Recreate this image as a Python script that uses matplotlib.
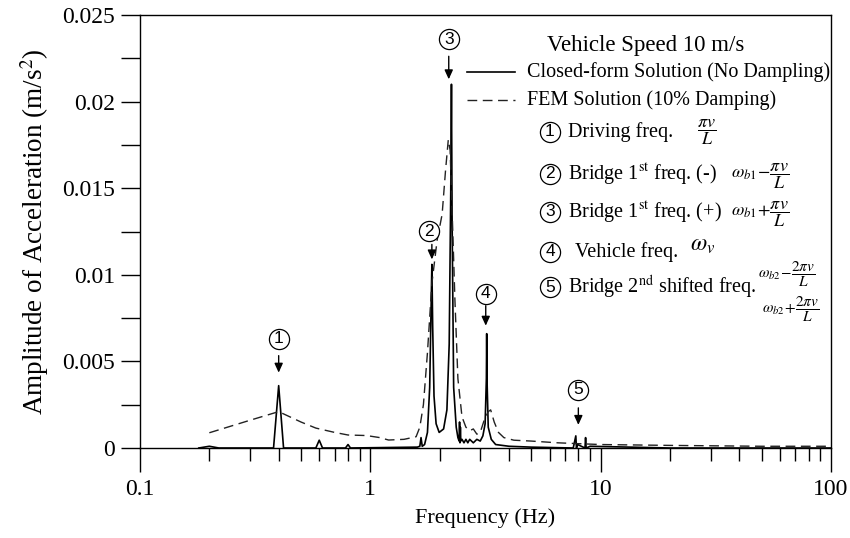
import matplotlib
matplotlib.use('Agg')
import matplotlib.pyplot as plt
import matplotlib.transforms as mtransforms

plt.rcParams['font.family'] = 'Liberation Serif'
plt.rcParams['mathtext.fontset'] = 'stix'

# Closed-form solution (no damping)
closed_freq = [0.18, 0.2, 0.22, 0.38, 0.40, 0.42, 0.58, 0.60, 0.62, 0.78, 0.80, 0.82,
               1.6, 1.64, 1.66, 1.68, 1.72, 1.77, 1.81, 1.835, 1.85, 1.865, 1.89, 1.93,
               1.99, 2.08, 2.15, 2.2, 2.235, 2.25, 2.265, 2.3, 2.36, 2.4, 2.43, 2.44,
               2.45, 2.46, 2.47, 2.5, 2.55, 2.6, 2.65, 2.7, 2.8, 2.9, 3.0, 3.08, 3.15,
               3.19, 3.2, 3.21, 3.25, 3.35, 3.5, 4.0, 5.0, 7.6, 7.8, 7.85, 7.95, 8.55,
               8.6, 8.65, 9.0, 20, 100]
closed_amp = [0.0, 0.0001, 0.0, 0.0, 0.0036, 0.0, 0.0, 0.00045, 0.0, 0.0, 0.0002, 0.0,
              0.00005, 0.0001, 0.0006, 0.0001, 0.0002, 0.0009, 0.0035, 0.008, 0.0106, 0.007, 0.003, 0.0014,
              0.0009, 0.0011, 0.0022, 0.006, 0.015, 0.021, 0.013, 0.0035, 0.0012, 0.0006, 0.0004, 0.0015,
              0.0003, 0.0012, 0.0004, 0.0005, 0.0003, 0.0005, 0.0003, 0.0005, 0.0003, 0.0005, 0.0004, 0.0007, 0.0014,
              0.004, 0.0066, 0.004, 0.0012, 0.0005, 0.0002, 0.0001, 0.00005, 0.0, 0.0007, 0.0, 0.0002, 0.0,
              0.0006, 0.0, 0.0001, 0.0, 0.0]

# FEM solution (10% damping)
fem_freq = [0.2, 0.3, 0.4, 0.5, 0.58, 0.7, 0.8, 0.96, 1.1, 1.2, 1.4, 1.58, 1.64, 1.7,
            1.77, 1.85, 1.95, 2.05, 2.12, 2.18, 2.22, 2.28, 2.33, 2.4, 2.5, 2.6, 2.7,
            2.8, 2.9, 3.0, 3.12, 3.25, 3.33, 3.45, 3.6, 3.8, 4.2, 5.0, 6.5, 8, 10, 20,
            50, 100]
fem_amp = [0.00088, 0.0016, 0.0021, 0.0015, 0.00115, 0.0009, 0.00075, 0.00072, 0.0006, 0.00046, 0.0005, 0.00065, 0.0012, 0.0025,
           0.0055, 0.0095, 0.012, 0.0135, 0.016, 0.0178, 0.0172, 0.0125, 0.0085, 0.004, 0.0018, 0.0012, 0.001,
           0.0011, 0.0008, 0.0009, 0.0016, 0.0021, 0.0022, 0.0015, 0.0009, 0.0006, 0.00045, 0.0004, 0.0003, 0.00025, 0.0002, 0.00015,
           0.0001, 0.0001]

# peaks marked with circled numbers
peak_labels = ['1', '2', '3', '4', '5']
peak_freq = [0.4, 1.85, 2.19, 3.17, 8.0]
peak_amp = [0.0036, 0.0106, 0.021, 0.0066, 0.0007]

x_ticks = [0.1, 1, 10, 100]
x_tick_labels = ['0.1', '1', '10', '100']
y_ticks = [0, 0.005, 0.01, 0.015, 0.02, 0.025]
y_tick_labels = ['0', '0.005', '0.01', '0.015', '0.02', '0.025']

fig = plt.figure(figsize=(8.5, 5.38), dpi=100)
ax = fig.add_axes([140 / 850, 1 - 448 / 538, 691 / 850, 433 / 538])

ax.plot(closed_freq, closed_amp, color='black', lw=1.2)
ax.plot(fem_freq, fem_amp, color='#222222', lw=1.0, dashes=(7, 4))

ax.set_xscale('log')
ax.set_xlim(0.1, 100)
ax.set_ylim(0, 0.025)
ax.set_xticks(x_ticks)
ax.set_xticklabels(x_tick_labels)
ax.set_yticks(y_ticks)
ax.set_yticklabels(y_tick_labels)
ax.set_yticks([0.0025, 0.0075, 0.0125, 0.0175, 0.0225], minor=True)
ax.tick_params(axis='x', which='major', direction='out', length=17, width=1, labelsize=17, pad=5)
ax.tick_params(axis='x', which='minor', direction='out', length=9, width=1)
ax.tick_params(axis='y', which='both', direction='out', length=14, width=1, labelsize=17, pad=4)
for s in ax.spines.values():
    s.set_linewidth(1.0)

ax.set_xlabel('Frequency (Hz)', fontsize=16, labelpad=6)
ax.set_ylabel('Amplitude of Acceleration (m/s$^2$)', fontsize=19.5, labelpad=8)

# circled numbers and arrows above the peaks (offsets in pixels)
tip_gap = [13, 5, 5, 8, 11]
arrow_len = [17, 15, 23, 20, 17]
circle_gap = [17, 13, 17, 12, 18]
circle_dx = [0, -3, 0, 0, 0]
for i in range(5):
    f, a = peak_freq[i], peak_amp[i]
    tip = mtransforms.offset_copy(ax.transData, fig=fig, x=0, y=tip_gap[i], units='dots')
    start = mtransforms.offset_copy(ax.transData, fig=fig, x=0, y=tip_gap[i] + arrow_len[i], units='dots')
    ax.annotate('', xy=(f, a), xycoords=tip, xytext=(f, a), textcoords=start,
                arrowprops=dict(arrowstyle='-|>,head_width=0.25,head_length=0.55',
                                color='black', lw=1.0, shrinkA=0, shrinkB=0))
    cy = tip_gap[i] + arrow_len[i] + circle_gap[i]
    ctr = mtransforms.offset_copy(ax.transData, fig=fig, x=circle_dx[i], y=cy, units='dots')
    ax.plot([f], [a], marker='o', ms=14.5, mfc='white', mec='black', mew=0.9,
            transform=ctr, clip_on=False)
    ax.text(f, a, peak_labels[i], transform=ctr, ha='center', va='center',
            fontsize=12.5, family='Liberation Sans')


def ax_xy(px, py):
    return (px - 140) / 691, (448 - py) / 433


# legend block
ax.text(*ax_xy(547, 45), 'Vehicle Speed 10 m/s', transform=ax.transAxes,
        ha='left', va='center', fontsize=16.5)
for py, style, label in [(72, '-', 'Closed-form Solution (No Dampling)'),
                         (100, '--', 'FEM Solution (10% Damping)')]:
    x0, y0 = ax_xy(467, py)
    x1, _ = ax_xy(515, py)
    if style == '-':
        ax.plot([x0, x1], [y0, y0], color='black', lw=1.2, transform=ax.transAxes)
    else:
        ax.plot([x0, x1], [y0, y0], color='#222222', lw=1.0, dashes=(7, 4), transform=ax.transAxes)
    ax.text(*ax_xy(527, py), label, transform=ax.transAxes, ha='left', va='center', fontsize=14.5)

items = [
    ('1', 132, 'Driving freq.', 568, r'$\dfrac{\pi v}{L}$', 697, 132, 13),
    ('2', 174, r'Bridge 1$^{\mathrm{st}}$ freq. (-)', 568, r'$\omega_{b1}\!-\!\dfrac{\pi v}{L}$', 731, 176, 13),
    ('3', 212, r'Bridge 1$^{\mathrm{st}}$ freq. (+)', 568, r'$\omega_{b1}\!+\!\dfrac{\pi v}{L}$', 731, 214, 13),
    ('4', 252, 'Vehicle freq.', 575, r'$\omega_v$', 690, 245, 17),
    ('5', 287, r'Bridge 2$^{\mathrm{nd}}$ shifted freq.', 568, r'$\omega_{b2}\!-\!\dfrac{2\pi v}{L}$', 758, 275, 11),
]
for num, py, text, tx, math, mx, my, msize in items:
    cx, cy = ax_xy(550, py)
    ax.plot([cx], [cy], marker='o', ms=14.5, mfc='white', mec='black', mew=0.9,
            transform=ax.transAxes, clip_on=False)
    ax.text(cx, cy, num, transform=ax.transAxes, ha='center', va='center',
            fontsize=12.5, family='Liberation Sans')
    ax.text(*ax_xy(tx, py), text, transform=ax.transAxes, ha='left', va='center', fontsize=14.5)
    ax.text(*ax_xy(mx, my), math, transform=ax.transAxes, ha='left', va='center', fontsize=msize)
ax.text(*ax_xy(762, 310), r'$\omega_{b2}\!+\!\dfrac{2\pi v}{L}$', transform=ax.transAxes,
        ha='left', va='center', fontsize=11)

fig.savefig('out.png', dpi=100)
